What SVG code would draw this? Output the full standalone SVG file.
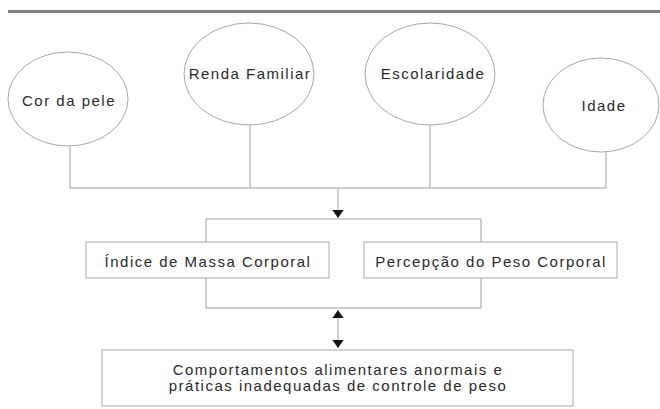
<svg xmlns="http://www.w3.org/2000/svg" width="660" height="409" viewBox="0 0 660 409">
<style>
.t{font-family:"Liberation Sans",Arial,sans-serif;font-size:15px;fill:#2a2a2a;letter-spacing:1.5px;text-anchor:middle}
.n{fill:#fff;stroke:#a8a8a8;stroke-width:1}
.c{fill:none;stroke:#a0a0a0;stroke-width:1}
</style>
<defs>
<marker id="ah" viewBox="0 0 10 14" refX="10" refY="7" markerWidth="8" markerHeight="12" markerUnits="userSpaceOnUse" orient="auto">
<path d="M0,0 L10,7 L0,14 Z" fill="#111"/>
</marker>
</defs>
<rect width="660" height="409" fill="#fff"/>
<rect x="8" y="10" width="652" height="3" fill="#808080"/>
<g id="connectors">
<path class="c" d="M70,147 V188 M250,125 V188 M430,124 V188 M606,152 V188 M70,188 H606"/>
<path class="c" d="M338,188 V218" marker-end="url(#ah)"/>
<path class="c" d="M206,242 V219 H481 V242"/>
<path class="c" d="M206,278 V308 H481 V278"/>
<path class="c" d="M338,329 V310" marker-end="url(#ah)"/>
<path class="c" d="M338,329 V348" marker-end="url(#ah)"/>
</g>
<g id="cor">
<ellipse class="n" cx="68" cy="99" rx="60" ry="47"/>
<text class="t" x="69" y="106">Cor da pele</text>
</g>
<g id="renda">
<ellipse class="n" cx="249" cy="74" rx="65" ry="51"/>
<text class="t" x="250" y="79">Renda Familiar</text>
</g>
<g id="escolaridade">
<ellipse class="n" cx="430" cy="74" rx="65" ry="51"/>
<text class="t" x="433" y="79">Escolaridade</text>
</g>
<g id="idade">
<ellipse class="n" cx="601" cy="105" rx="58" ry="47"/>
<text class="t" x="604" y="111">Idade</text>
</g>
<g id="imc">
<rect class="n" x="86" y="242" width="243" height="36"/>
<text class="t" x="208" y="267">Índice de Massa Corporal</text>
</g>
<g id="percepcao">
<rect class="n" x="364" y="242" width="253" height="36"/>
<text class="t" x="491" y="267">Percepção do Peso Corporal</text>
</g>
<g id="comportamentos">
<rect class="n" x="102" y="350" width="471" height="56"/>
<text class="t" x="338" y="375">Comportamentos alimentares anormais e</text>
<text class="t" x="338" y="391">práticas inadequadas de controle de peso</text>
</g>
</svg>
